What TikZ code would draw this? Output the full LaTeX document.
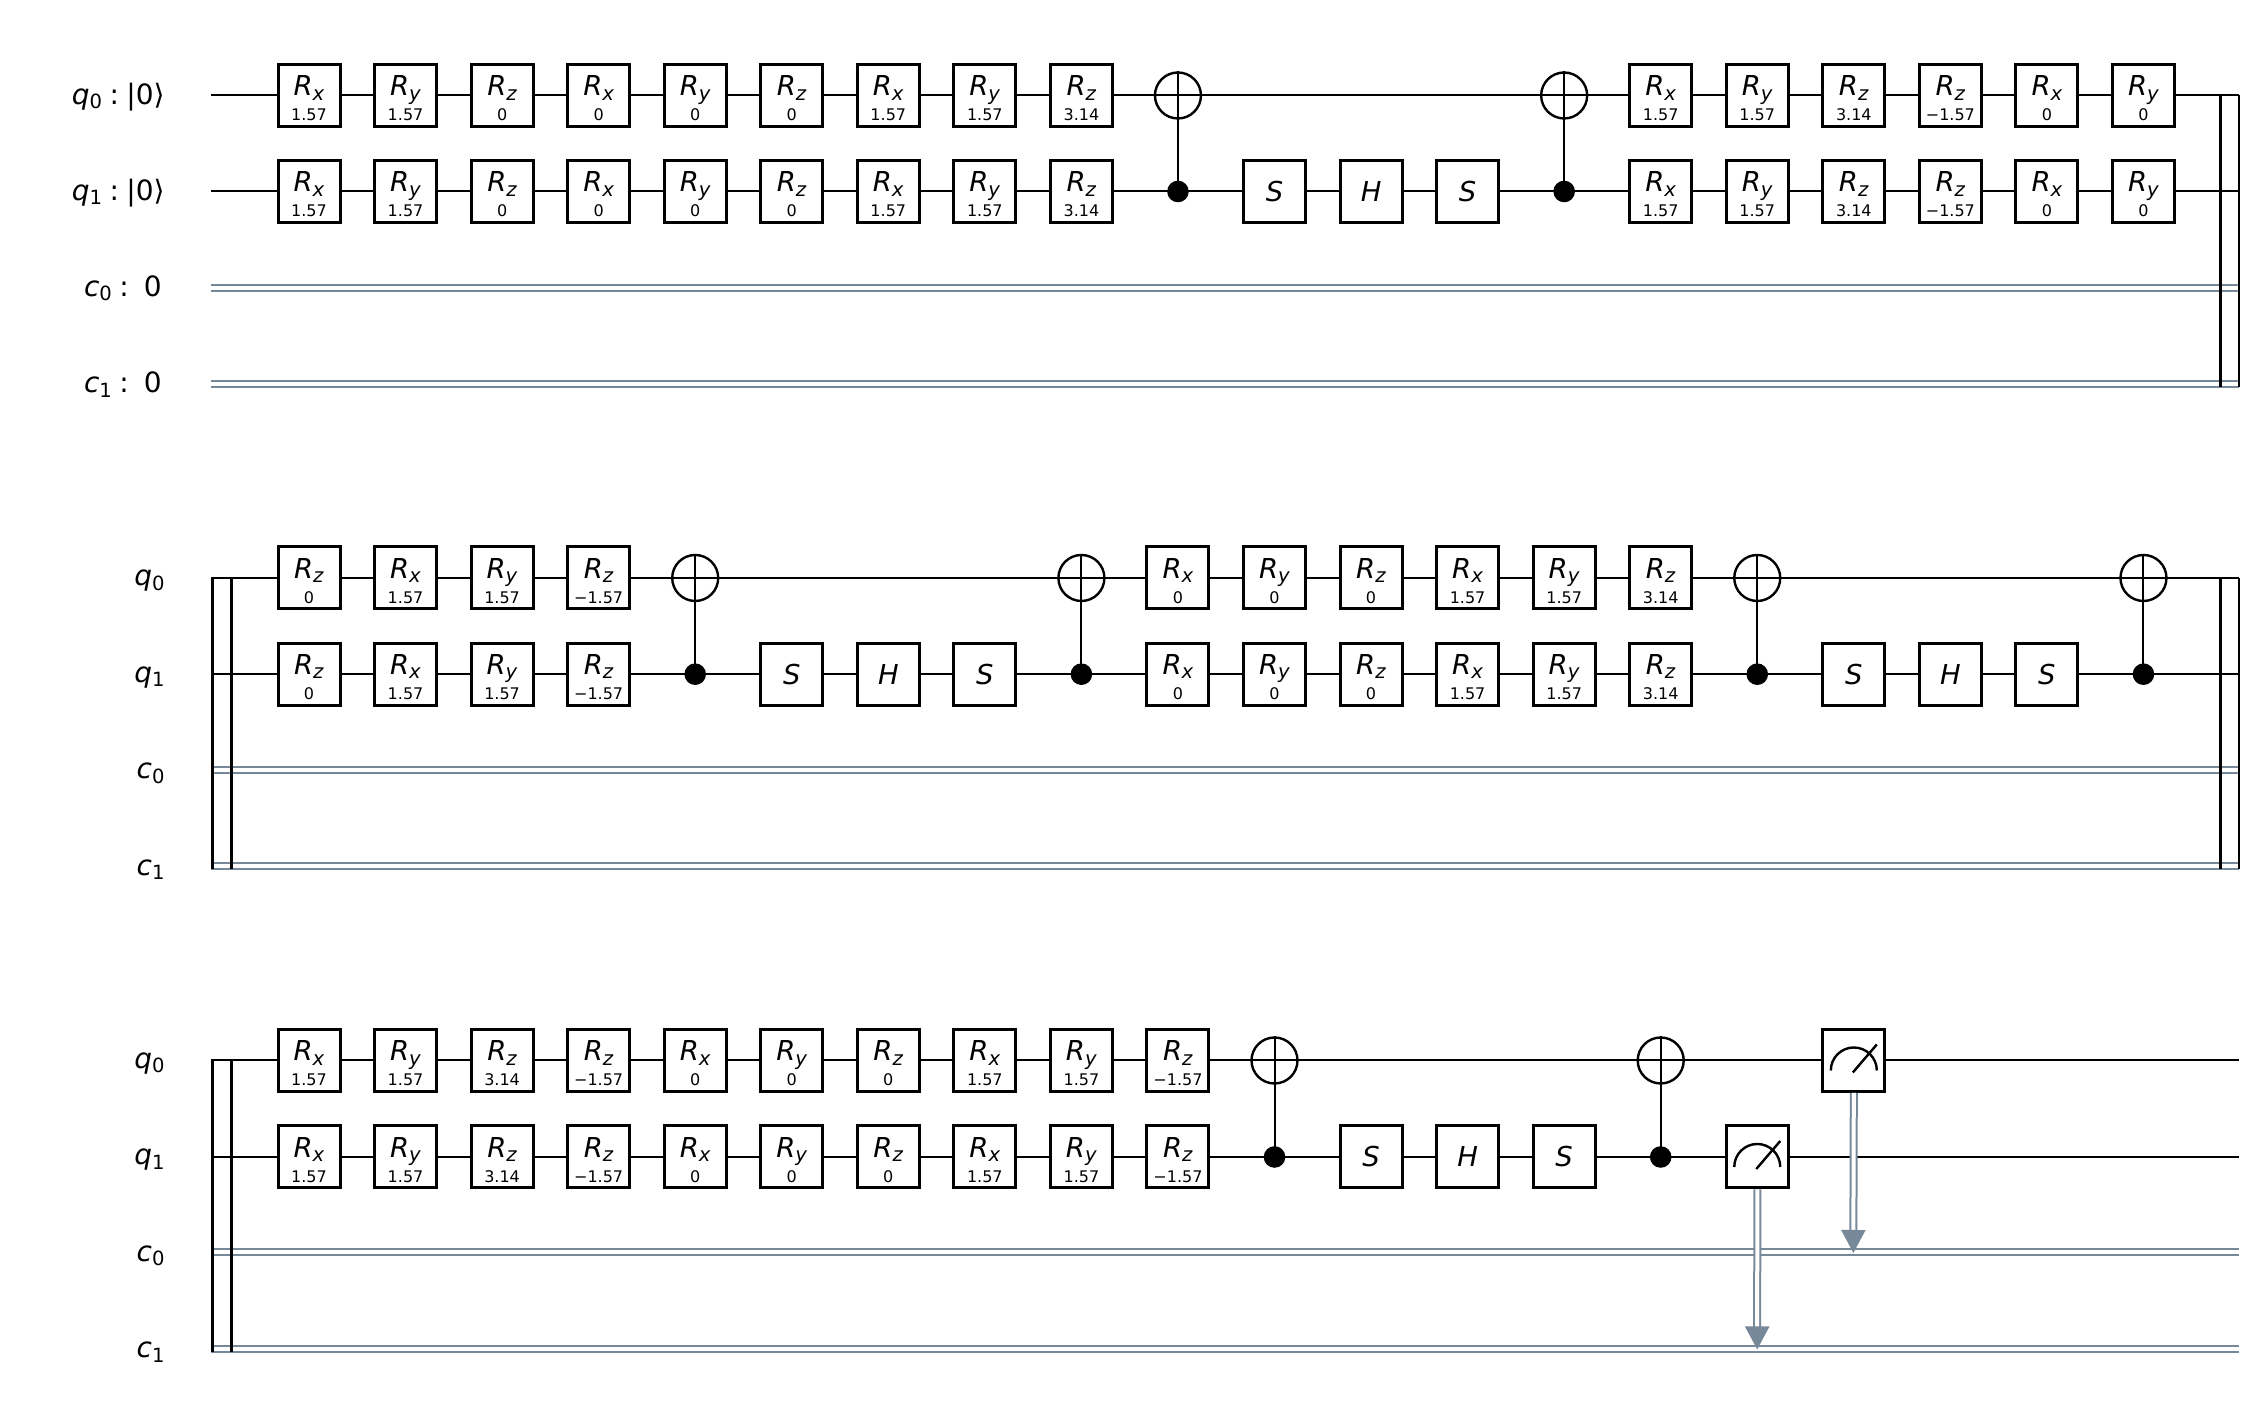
\documentclass[tikz,border=0pt]{standalone}
\usepackage{fontspec}
\setmainfont{DejaVu Sans}
\usetikzlibrary{arrows.meta}
\definecolor{wiregray}{HTML}{778899}
\tikzset{
	gate/.style={draw, fill=white, line width=1.5pt, minimum size=31pt, inner sep=0pt, align=center},
	qwire/.style={line width=1pt},
	cwire/.style={draw=wiregray, line width=1pt, double=white, double distance=2pt},
	cwirearrow/.style={cwire, -{Triangle[width=12pt,length=11.5pt,fill=wiregray]}},
	bar/.style={line width=1.5pt},
	target/.style={draw, circle, line width=1.2pt, minimum size=23pt, inner sep=0pt},
	control/.style={circle, fill, minimum size=10.8pt, inner sep=0pt},
	wirelabel/.style={anchor=base east, inner sep=0pt, font=\fontsize{14}{14}\selectfont}
}
\newcommand{\sbs}[1]{\raisebox{-2.2pt}{\fontsize{9.8}{10}\selectfont #1}}
\newcommand{\rot}[2]{\fontsize{13.7}{14}\selectfont\rule{0pt}{12.8pt}\textit{R}\sbs{\textit{#1}}\\[0.5pt]\fontsize{8}{9}\selectfont #2}
\newcommand{\rotgates}[4]{
	\foreach \i/\a/\v in {#4}{
		\draw ({309+96.55*\i},#2) node[gate] (#10\i) {\rot{\a}{\v}};
		\draw ({309+96.55*\i},#3) node[gate] (#11\i) {\rot{\a}{\v}};
	}
}
\newcommand{\cxgate}[4]{
	\draw ({309+96.55*#2},#3) node[target] (#1t#2) {};
	\draw ({309+96.55*#2},#4) node[control] (#1c#2) {};
	\draw[qwire] (#1t#2.north) -- (#1c#2.center);
}
\newcommand{\shsgates}[3]{
	\foreach \i/\g in {0/S,1/H,2/S}{
		\draw ({309+96.55*(#2+\i)},#3) node[gate, font=\fontsize{13.7}{14}\selectfont\itshape] (#1g\i) {\g};
	}
}
\newcommand{\wires}[7]{
	\coordinate (#1a) at (#2,#4);
	\coordinate (#1b) at (#3,#4);
	\coordinate (#1c) at (#2,#5);
	\coordinate (#1d) at (#3,#5);
	\coordinate (#1e) at (#2,#6);
	\coordinate (#1f) at (#3,#6);
	\coordinate (#1g) at (#2,#7);
	\coordinate (#1h) at (#3,#7);
	\draw[qwire] (#1a) -- (#1b);
	\draw[qwire] (#1c) -- (#1d);
	\draw[cwire] (#1e) -- (#1f);
	\draw[cwire] (#1g) -- (#1h);
}
\newcommand{\meter}[3]{
	\draw ({309+96.55*#2},#3) node[gate] (#1) {};
	\draw[line width=1.2pt] ([xshift=-11.5pt,yshift=-5pt]#1.center) arc[start angle=180, end angle=0, radius=11.5pt];
	\draw[line width=1.2pt] ([xshift=-0.5pt,yshift=-6pt]#1.center) -- ([xshift=11.5pt,yshift=8pt]#1.center);
}
\begin{document}
\begin{tikzpicture}[x=0.5pt,y=0.5pt]
	\useasboundingbox (0,0) rectangle (2258,1417);
	\wires{a}{211}{2239}{1321.5}{1225.5}{1129.2}{1033}
	\wires{b}{211}{2239}{839}{742.8}{647}{550.5}
	\wires{c}{211}{2239}{356.5}{260}{164.5}{68}
	\draw (165,1312.5) node[wirelabel] (la0) {\textit{q}\sbs{0}\hspace{3.7pt}:\hspace{3.7pt}|0⟩};
	\draw (165,1216.5) node[wirelabel] (la1) {\textit{q}\sbs{1}\hspace{3.7pt}:\hspace{3.7pt}|0⟩};
	\draw (162,1120.5) node[wirelabel] (la2) {\textit{c}\sbs{0}\hspace{3.7pt}:\hspace{7.5pt}0};
	\draw (162,1024) node[wirelabel] (la3) {\textit{c}\sbs{1}\hspace{3.7pt}:\hspace{7.5pt}0};
	\draw (165,831) node[wirelabel] (lb0) {\textit{q}\sbs{0}};
	\draw (165,734.5) node[wirelabel] (lb1) {\textit{q}\sbs{1}};
	\draw (165,638) node[wirelabel] (lb2) {\textit{c}\sbs{0}};
	\draw (165,541.5) node[wirelabel] (lb3) {\textit{c}\sbs{1}};
	\draw (165,348.5) node[wirelabel] (lc0) {\textit{q}\sbs{0}};
	\draw (165,252) node[wirelabel] (lc1) {\textit{q}\sbs{1}};
	\draw (165,155.5) node[wirelabel] (lc2) {\textit{c}\sbs{0}};
	\draw (165,59) node[wirelabel] (lc3) {\textit{c}\sbs{1}};
	\rotgates{a}{1321.5}{1225.5}{0/x/1.57,1/y/1.57,2/z/0,3/x/0,4/y/0,5/z/0,6/x/1.57,7/y/1.57,8/z/3.14,14/x/1.57,15/y/1.57,16/z/3.14,17/z/−1.57,18/x/0,19/y/0}
	\cxgate{a}{9}{1321.5}{1225.5}
	\shsgates{a}{10}{1225.5}
	\cxgate{a}{13}{1321.5}{1225.5}
	\rotgates{b}{839}{742.8}{0/z/0,1/x/1.57,2/y/1.57,3/z/−1.57,9/x/0,10/y/0,11/z/0,12/x/1.57,13/y/1.57,14/z/3.14}
	\cxgate{b}{4}{839}{742.8}
	\shsgates{bl}{5}{742.8}
	\cxgate{b}{8}{839}{742.8}
	\cxgate{b}{15}{839}{742.8}
	\shsgates{br}{16}{742.8}
	\cxgate{b}{19}{839}{742.8}
	\rotgates{c}{356.5}{260}{0/x/1.57,1/y/1.57,2/z/3.14,3/z/−1.57,4/x/0,5/y/0,6/z/0,7/x/1.57,8/y/1.57,9/z/−1.57}
	\cxgate{c}{10}{356.5}{260}
	\shsgates{c}{11}{260}
	\cxgate{c}{14}{356.5}{260}
	\meter{mq1}{15}{260}
	\meter{mq0}{16}{356.5}
	\coordinate (tc0) at (1853.3,164);
	\coordinate (tc1) at (1757.2,67.5);
	\draw[cwirearrow] (mq0.south) -- (tc0);
	\draw[cwirearrow] (mq1.south) -- (tc1);
	\draw[bar] (2220,1321.5) -- (2220,1030);
	\draw[line width=0.7pt] (2239,1321.5) -- (2239,1030);
	\draw[bar] (212.7,839) -- (212.7,548);
	\draw[bar] (231.3,839) -- (231.3,548);
	\draw[bar] (212.7,356.5) -- (212.7,65);
	\draw[bar] (231.3,356.5) -- (231.3,65);
	\draw[bar] (2220,839) -- (2220,548);
	\draw[line width=0.7pt] (2239,839) -- (2239,548);
\end{tikzpicture}
\end{document}
